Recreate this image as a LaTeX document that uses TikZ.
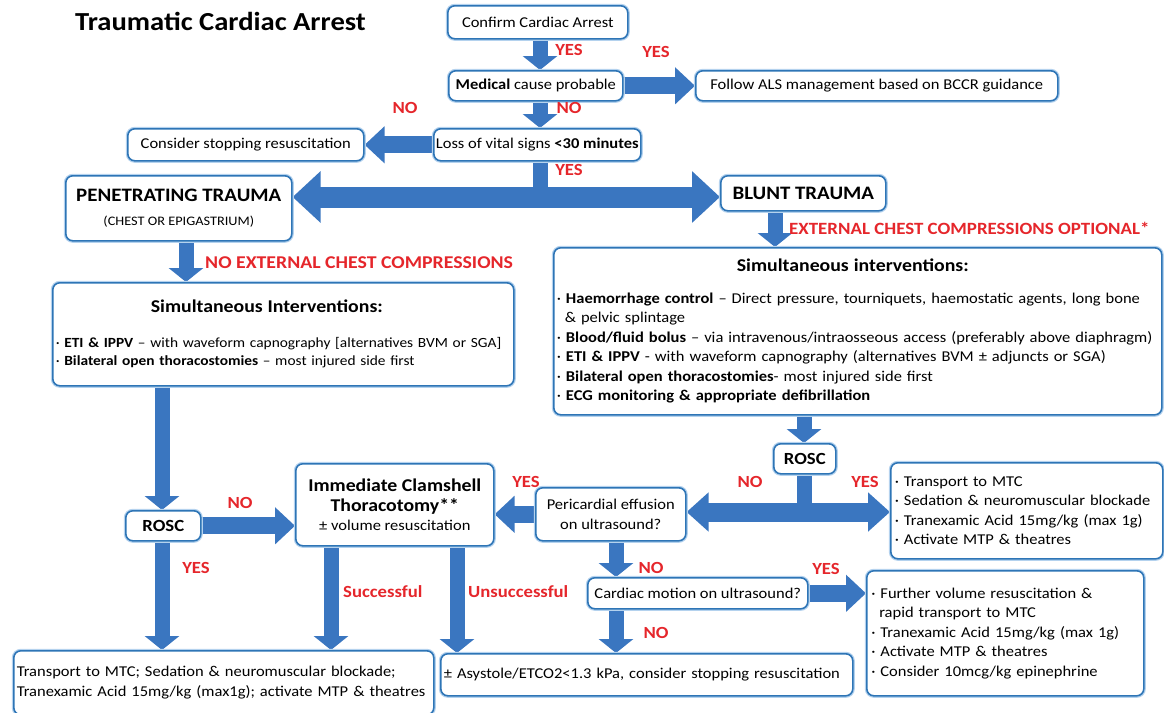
\documentclass[tikz,border=0pt]{standalone}
\usepackage{fontspec}
\setmainfont{Carlito}[FakeStretch=1.1]
\usetikzlibrary{arrows.meta,calc}
\definecolor{ablue}{HTML}{3A76C0}
\definecolor{bblue}{HTML}{2E75B6}
\definecolor{halo}{HTML}{B4D2EE}
\definecolor{lred}{HTML}{E5262B}
\pgfdeclarelayer{bg}
\pgfsetlayers{bg,main}
\tikzset{
  box/.style={draw=bblue, line width=1.6pt, rounded corners=7pt, fill=white,
    preaction={draw=halo, line width=4pt}, anchor=north west,
    inner xsep=3pt, inner ysep=2pt, align=left,
    font=\fontsize{15}{19.5}\selectfont},
  lbl/.style={text=lred, font=\fontsize{17}{19}\selectfont\bfseries, inner sep=0pt},
  arr/.style={draw=ablue, line width=15pt, -{Triangle[length=14pt,width=34pt]}},
  harr/.style={draw=ablue, line width=17pt, -{Triangle[length=20pt,width=36pt]}},
  shaft/.style={draw=ablue, line width=15pt},
  bigdbl/.style={draw=ablue, line width=21pt, {Triangle[length=28pt,width=50pt]}-{Triangle[length=28pt,width=50pt]}},
  dbl/.style={draw=ablue, line width=19pt, {Triangle[length=22pt,width=38pt]}-{Triangle[length=22pt,width=38pt]}},
}
\begin{document}
\begin{tikzpicture}[x=1pt,y=-1pt]
\useasboundingbox (0,0) rectangle (1164,712);

\node[anchor=west, inner sep=0pt, font=\fontsize{26}{30}\selectfont\bfseries] (title) at (75,21) {Traumatic Cardiac Arrest};

\node[box, minimum width=180pt, minimum height=33pt, align=center] (confirm) at (447,5) {Confirm Cardiac Arrest};
\node[box, minimum width=174pt, minimum height=30pt, align=center] (medical) at (448,70) {\textbf{Medical} cause probable};
\node[box, minimum width=362pt, minimum height=30pt, align=center] (als) at (695,70) {Follow ALS management based on BCCR guidance};
\node[box, minimum width=207pt, minimum height=32pt, align=center, inner xsep=1pt] (loss) at (433,128) {Loss of vital signs \textbf{<30 minutes}};
\node[box, minimum width=236pt, minimum height=32pt, align=center] (consider) at (127,128) {Consider stopping resuscitation};

\node[box, minimum width=226pt, minimum height=65pt, align=center] (pen) at (65,175)
  {{\fontsize{19}{22}\selectfont\bfseries PENETRATING TRAUMA}\\[4pt]{\fontsize{13}{15}\selectfont (CHEST OR EPIGASTRIUM)}};
\node[box, minimum width=165pt, minimum height=35pt, align=center] (blunt) at (720,175)
  {{\fontsize{19}{22}\selectfont\bfseries BLUNT TRAUMA}};

\node[box, minimum width=461pt, minimum height=103pt, text width=455pt, font=\fontsize{14}{18.5}\selectfont] (leftsim) at (52,282)
  {\hspace*{95pt}{\fontsize{18}{20}\selectfont\bfseries Simultaneous Interventions:}\\[16pt]
   · \textbf{ETI \& IPPV} – with waveform capnography [alternatives BVM or SGA]\\
   · \textbf{Bilateral open thoracostomies} – most injured side first};

\node[box, minimum width=608pt, minimum height=167pt, text width=602pt] (rightsim) at (553,247)
  {\hspace*{180pt}{\fontsize{18}{20}\selectfont\bfseries Simultaneous interventions:}\\[12pt]
   · \textbf{Haemorrhage control} – Direct pressure, tourniquets, haemostatic agents, long bone\\
   \hspace*{8pt}\& pelvic splintage\\
   · \textbf{Blood/fluid bolus} – via intravenous/intraosseous access (preferably above diaphragm)\\
   · \textbf{ETI \& IPPV} - with waveform capnography (alternatives BVM ± adjuncts or SGA)\\
   · \textbf{Bilateral open thoracostomies}- most injured side first\\
   · \textbf{ECG monitoring \& appropriate defibrillation}};

\node[box, minimum width=75pt, minimum height=30pt, align=center] (roscL) at (125,510) {\fontsize{17}{19}\selectfont\bfseries ROSC};
\node[box, minimum width=198pt, minimum height=82pt, align=center] (clam) at (295,463)
  {{\fontsize{18}{21}\selectfont\bfseries Immediate Clamshell}\\{\fontsize{18}{21}\selectfont\bfseries Thoracotomy**}\\± volume resuscitation};
\node[box, minimum width=62pt, minimum height=30pt, align=center] (roscR) at (773,443) {\fontsize{17}{19}\selectfont\bfseries ROSC};
\node[box, minimum width=150pt, minimum height=53pt, align=center] (peri) at (535,487) {Pericardial effusion\\on ultrasound?};
\node[box, minimum width=272pt, minimum height=96pt, text width=264pt] (trans) at (890,462)
  {· Transport to MTC\\· Sedation \& neuromuscular blockade\\· Tranexamic Acid 15mg/kg (max 1g)\\· Activate MTP \& theatres};
\node[box, minimum width=220pt, minimum height=31pt, align=center] (cardiac) at (587,577) {Cardiac motion on ultrasound?};
\node[box, minimum width=277pt, minimum height=125pt, text width=268pt] (further) at (866,570)
  {· Further volume resuscitation \&\\\hspace*{8pt}rapid transport to MTC\\· Tranexamic Acid 15mg/kg (max 1g)\\· Activate MTP \& theatres\\· Consider 10mcg/kg epinephrine};
\node[box, minimum width=420pt, minimum height=64pt, text width=414pt] (bottomL) at (13,650)
  {Transport to MTC; Sedation \& neuromuscular blockade;\\Tranexamic Acid 15mg/kg (max1g); activate MTP \& theatres};
\node[box, minimum width=412pt, minimum height=42pt, text width=406pt] (bottomM) at (440,653)
  {± Asystole/ETCO2<1.3 kPa, consider stopping resuscitation};

% labels
\node[lbl] (y1) at (569,50) {YES};
\node[lbl] (y2) at (656,52) {YES};
\node[lbl] (n1) at (569,108) {NO};
\node[lbl] (n2) at (405,108) {NO};
\node[lbl] (y3) at (569,170) {YES};
\node[lbl, anchor=west, font=\fontsize{18}{20}\selectfont\bfseries] (nec) at (205,263) {NO EXTERNAL CHEST COMPRESSIONS};
\node[lbl, anchor=west, font=\fontsize{17.2}{20}\selectfont\bfseries] (eco) at (789,228) {EXTERNAL CHEST COMPRESSIONS OPTIONAL*};
\node[lbl] (n3) at (240,503) {NO};
\node[lbl] (y4) at (196,568) {YES};
\node[lbl, anchor=west] (succ) at (343,592) {Successful};
\node[lbl, anchor=west] (unsucc) at (468,592) {Unsuccessful};
\node[lbl] (y5) at (526,482) {YES};
\node[lbl] (n4) at (750,482) {NO};
\node[lbl] (y6) at (865,482) {YES};
\node[lbl] (n5) at (651,568) {NO};
\node[lbl] (y7) at (826,569) {YES};
\node[lbl] (n6) at (656,633) {NO};

\coordinate (split) at (540,197);
\coordinate (split2) at (804,512);
\coordinate (penx) at (186,0);
\coordinate (bluntx) at (775,0);
\coordinate (leftx) at (162,0);
\coordinate (succx) at (331,0);
\coordinate (unsx) at (457,0);
\coordinate (perix) at (616,0);

\begin{pgfonlayer}{bg}
\draw[arr] (confirm.south -| split) -- (medical.north -| split);
\draw[harr] (medical.east) -- (als.west |- medical.east);
\draw[arr] (medical.south -| split) -- (loss.north -| split);
\draw[harr] (loss.west) -- (consider.east |- loss.west);
\draw[shaft] (loss.south -| split) -- (split);
\draw[bigdbl] (pen.east |- split) -- (blunt.west |- split);
\draw[arr] (pen.south -| penx) -- (leftsim.north -| penx);
\draw[arr] (blunt.south -| bluntx) -- (rightsim.north -| bluntx);
\draw[arr] (leftsim.south -| leftx) -- (roscL.north -| leftx);
\draw[arr] (rightsim.south -| split2) -- (roscR.north -| split2);
\draw[shaft] (roscR.south -| split2) -- (split2);
\draw[dbl] (peri.east |- split2) -- (trans.west |- split2);
\draw[harr] (roscL.east) -- (clam.west |- roscL.east);
\draw[harr] (peri.west) -- (clam.east |- peri.west);
\draw[arr] (roscL.south -| leftx) -- (bottomL.north -| leftx);
\draw[arr] (clam.south -| succx) -- (bottomL.north -| succx);
\draw[arr] (clam.south -| unsx) -- (bottomM.north -| unsx);
\draw[arr] (peri.south -| perix) -- (cardiac.north -| perix);
\draw[harr] (cardiac.east) -- (further.west |- cardiac.east);
\draw[arr] (cardiac.south -| perix) -- (bottomM.north -| perix);
\end{pgfonlayer}
\end{tikzpicture}
\end{document}
